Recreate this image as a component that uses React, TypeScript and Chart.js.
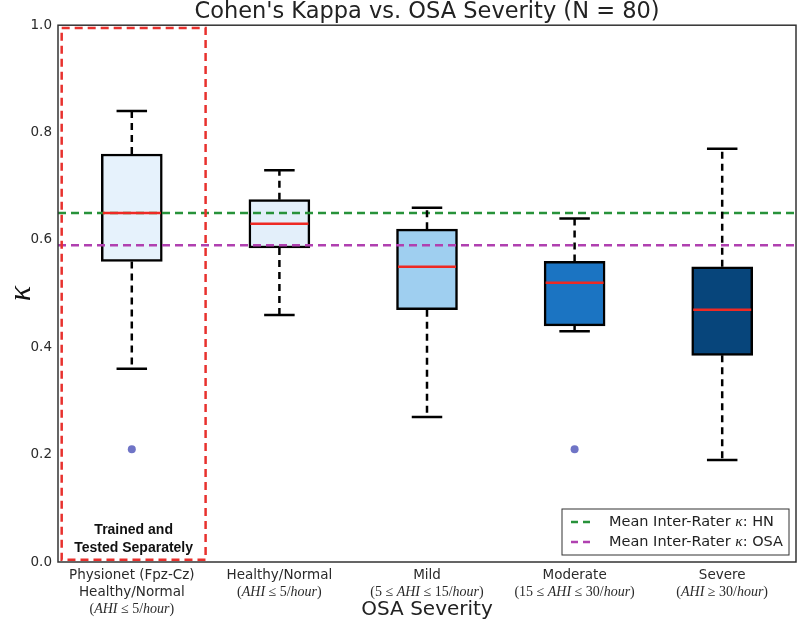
import React, { useEffect, useRef } from 'react';
import { Chart, registerables } from 'chart.js';

Chart.register(...registerables);

// ---------- data ----------
const categoryText: string[][] = [
  ['Physionet (Fpz-Cz)', 'Healthy/Normal'],
  ['Healthy/Normal'],
  ['Mild'],
  ['Moderate'],
  ['Severe'],
];
const categoryMath = [
  '(AHI ≤ 5/hour)',
  '(AHI ≤ 5/hour)',
  '(5 ≤ AHI ≤ 15/hour)',
  '(15 ≤ AHI ≤ 30/hour)',
  '(AHI ≥ 30/hour)',
];
const whiskerLow = [0.36, 0.46, 0.27, 0.43, 0.19];
const q1 = [0.56, 0.585, 0.47, 0.44, 0.385];
const median = [0.65, 0.63, 0.55, 0.52, 0.47];
const q3 = [0.76, 0.675, 0.62, 0.56, 0.55];
const whiskerHigh = [0.84, 0.73, 0.66, 0.64, 0.77];
const outlierCategory = [0, 3];
const outlierValues = [0.21, 0.21];
const meanLabels = ['Mean Inter-Rater κ: HN', 'Mean Inter-Rater κ: OSA'];
const meanValues = [0.65, 0.59];
const yTicks = [0, 0.2, 0.4, 0.6, 0.8, 1.0];
const separateRegion = { xMin: -0.475, xMax: 0.5, yMin: 0.004, yMax: 0.995 };
const separateText = ['Trained and', 'Tested Separately'];

const boxColors = ['#e6f2fc', '#e3effa', '#9fcff0', '#1b74c2', '#07457b'];
const meanColors = ['#27923a', '#b040b0'];

const SANS = '"DejaVu Sans", sans-serif';
const SERIF = '"Liberation Serif", serif';

type Part = { t: string; font: string };

function mathParts(s: string, size: number): Part[] {
  const tokens = s.match(/[A-Za-z]+|[^A-Za-z]+/g) || [];
  return tokens.map((t) => ({
    t,
    font: /[A-Za-z]/.test(t) ? `italic ${size}px ${SERIF}` : `${size}px ${SERIF}`,
  }));
}

function legendParts(s: string, size: number): Part[] {
  const out: Part[] = [];
  const pieces = s.split('κ');
  pieces.forEach((p, i) => {
    if (i > 0) out.push({ t: 'κ', font: `italic ${size + 1}px ${SERIF}` });
    if (p) out.push({ t: p, font: `${size}px ${SANS}` });
  });
  return out;
}

function drawParts(ctx: CanvasRenderingContext2D, parts: Part[], x: number, y: number, align: 'left' | 'center') {
  const widths = parts.map((p) => {
    ctx.font = p.font;
    return ctx.measureText(p.t).width;
  });
  const total = widths.reduce((a, b) => a + b, 0);
  let cx = align === 'center' ? x - total / 2 : x;
  ctx.textAlign = 'left';
  ctx.textBaseline = 'middle';
  parts.forEach((p, i) => {
    ctx.font = p.font;
    ctx.fillText(p.t, cx, y);
    cx += widths[i];
  });
}

const extrasPlugin = {
  id: 'boxExtras',
  afterDatasetsDraw(chart: any) {
    const { ctx, chartArea, scales } = chart;
    const x = scales.x;
    const y = scales.y;
    const barMeta = chart.getDatasetMeta(0);
    ctx.save();
    ctx.beginPath();
    ctx.rect(chartArea.left, chartArea.top, chartArea.right - chartArea.left, chartArea.bottom - chartArea.top);
    ctx.clip();
    for (let i = 0; i < median.length; i++) {
      const cx = x.getPixelForValue(i);
      const half = (barMeta.data[i]?.width ?? 61) / 2;
      // whiskers
      ctx.strokeStyle = '#000';
      ctx.lineWidth = 2.5;
      ctx.setLineDash([7, 5]);
      ctx.beginPath();
      ctx.moveTo(cx, y.getPixelForValue(q3[i]));
      ctx.lineTo(cx, y.getPixelForValue(whiskerHigh[i]));
      ctx.moveTo(cx, y.getPixelForValue(q1[i]));
      ctx.lineTo(cx, y.getPixelForValue(whiskerLow[i]));
      ctx.stroke();
      // caps
      ctx.setLineDash([]);
      ctx.beginPath();
      ctx.moveTo(cx - half / 2, y.getPixelForValue(whiskerHigh[i]));
      ctx.lineTo(cx + half / 2, y.getPixelForValue(whiskerHigh[i]));
      ctx.moveTo(cx - half / 2, y.getPixelForValue(whiskerLow[i]));
      ctx.lineTo(cx + half / 2, y.getPixelForValue(whiskerLow[i]));
      ctx.stroke();
      // median
      ctx.strokeStyle = '#ee2a24';
      ctx.lineWidth = 2.5;
      ctx.beginPath();
      ctx.moveTo(cx - half + 1.5, y.getPixelForValue(median[i]));
      ctx.lineTo(cx + half - 1.5, y.getPixelForValue(median[i]));
      ctx.stroke();
    }
    // separately trained region
    const rx0 = x.getPixelForValue(separateRegion.xMin);
    const rx1 = x.getPixelForValue(separateRegion.xMax);
    const ry0 = y.getPixelForValue(separateRegion.yMax);
    const ry1 = y.getPixelForValue(separateRegion.yMin);
    ctx.strokeStyle = '#e8312d';
    ctx.lineWidth = 2.5;
    ctx.setLineDash([8, 5]);
    ctx.strokeRect(rx0, ry0, rx1 - rx0, ry1 - ry0);
    ctx.setLineDash([]);
    ctx.fillStyle = '#111';
    ctx.font = `bold 14px "Liberation Sans", Arial, sans-serif`;
    ctx.textAlign = 'center';
    ctx.textBaseline = 'middle';
    const tcx = (rx0 + rx1) / 2;
    ctx.fillText(separateText[0], tcx, ry1 - 30);
    ctx.fillText(separateText[1], tcx, ry1 - 12);
    ctx.restore();
  },
  afterDraw(chart: any) {
    const { ctx, chartArea, scales } = chart;
    const x = scales.x;
    ctx.save();
    // frame
    ctx.strokeStyle = '#333';
    ctx.lineWidth = 1.5;
    ctx.setLineDash([]);
    ctx.strokeRect(chartArea.left, chartArea.top, chartArea.right - chartArea.left, chartArea.bottom - chartArea.top);
    // x tick labels
    ctx.fillStyle = '#2a2a2a';
    for (let i = 0; i < categoryText.length; i++) {
      const cx = x.getPixelForValue(i);
      let ly = chartArea.bottom + 13;
      categoryText[i].forEach((line) => {
        drawParts(ctx, [{ t: line, font: `13.5px ${SANS}` }], cx, ly, 'center');
        ly += 17;
      });
      drawParts(ctx, mathParts(categoryMath[i], 14), cx, ly, 'center');
    }
    // legend
    const lw = 227;
    const lh = 46;
    const lx = chartArea.right - 7 - lw;
    const ly0 = chartArea.bottom - 7 - lh;
    ctx.fillStyle = '#fff';
    ctx.fillRect(lx, ly0, lw, lh);
    ctx.strokeStyle = '#333';
    ctx.lineWidth = 1;
    ctx.strokeRect(lx, ly0, lw, lh);
    const ds = chart.data.datasets.filter((d: any) => d.isMean);
    ds.forEach((d: any, i: number) => {
      const ry = ly0 + 13 + i * 20;
      ctx.strokeStyle = d.borderColor;
      ctx.lineWidth = 2.5;
      ctx.setLineDash([7, 5]);
      ctx.beginPath();
      ctx.moveTo(lx + 9, ry);
      ctx.lineTo(lx + 33, ry);
      ctx.stroke();
      ctx.setLineDash([]);
      ctx.fillStyle = '#222';
      drawParts(ctx, legendParts(d.label, 14.5), lx + 47, ry, 'left');
    });
    ctx.restore();
  },
};

export default function App() {
  const ref = useRef<HTMLCanvasElement>(null);
  useEffect(() => {
    if (!ref.current) return;
    const datasets: any[] = [
      {
        type: 'bar',
        label: 'boxes',
        data: q1.map((v, i) => ({ x: i, y: [v, q3[i]] })),
        backgroundColor: boxColors,
        borderColor: '#000',
        borderWidth: 2.5,
        borderSkipped: false,
        barThickness: 61,
        order: 3,
      },
      {
        type: 'scatter',
        label: 'outliers',
        data: outlierCategory.map((c, i) => ({ x: c, y: outlierValues[i] })),
        backgroundColor: '#6f74c6',
        borderWidth: 0,
        pointRadius: 4,
        order: 2,
      },
      ...meanValues.map((v, i) => ({
        type: 'line',
        label: meanLabels[i],
        isMean: true,
        data: [
          { x: -0.5, y: v },
          { x: 4.5, y: v },
        ],
        borderColor: meanColors[i],
        borderWidth: 2.5,
        borderDash: [8, 5],
        pointRadius: 0,
        fill: false,
        order: 1,
      })),
    ];
    const chart = new Chart(ref.current, {
      type: 'bar',
      data: { datasets },
      options: {
        animation: false,
        responsive: true,
        maintainAspectRatio: false,
        layout: { padding: { left: 0, right: 3, top: 0, bottom: 0 } },
        plugins: {
          legend: { display: false },
          tooltip: { enabled: false },
          title: {
            display: true,
            fullSize: false,
            text: "Cohen's Kappa vs. OSA Severity (N = 80)",
            color: '#222',
            font: { family: SANS, size: 22.5, weight: 'normal', lineHeight: 1.12 },
            padding: { top: 0, bottom: 0 },
          },
        },
        scales: {
          x: {
            type: 'linear',
            min: -0.5,
            max: 4.5,
            offset: false,
            grid: { display: false, drawTicks: false },
            border: { display: false },
            ticks: { display: false },
            title: {
              display: true,
              text: 'OSA Severity',
              color: '#222',
              font: { family: SANS, size: 20 },
              padding: { top: 0, bottom: 20 },
            },
            afterFit: (s: any) => {
              s.height = 80;
            },
          },
          y: {
            type: 'linear',
            min: 0,
            max: 1,
            grid: { display: false, drawTicks: false },
            border: { display: false },
            afterBuildTicks: (s: any) => {
              s.ticks = yTicks.map((v) => ({ value: v }));
            },
            ticks: {
              padding: 6,
              color: '#2a2a2a',
              font: { family: SANS, size: 13.5 },
              callback: (v: any) => Number(v).toFixed(1),
            },
            title: {
              display: true,
              text: 'κ',
              color: '#111',
              font: { family: SERIF, size: 32, style: 'italic' },
              padding: { top: 2, bottom: 0 },
            },
            afterFit: (s: any) => {
              s.width = 58;
            },
          },
        },
      } as any,
      plugins: [extrasPlugin],
    });
    return () => chart.destroy();
  }, []);
  return (
    <div style={{ position: 'absolute', left: 0, top: 0, width: 800, height: 642, background: '#fff' }}>
      <canvas ref={ref} />
    </div>
  );
}
